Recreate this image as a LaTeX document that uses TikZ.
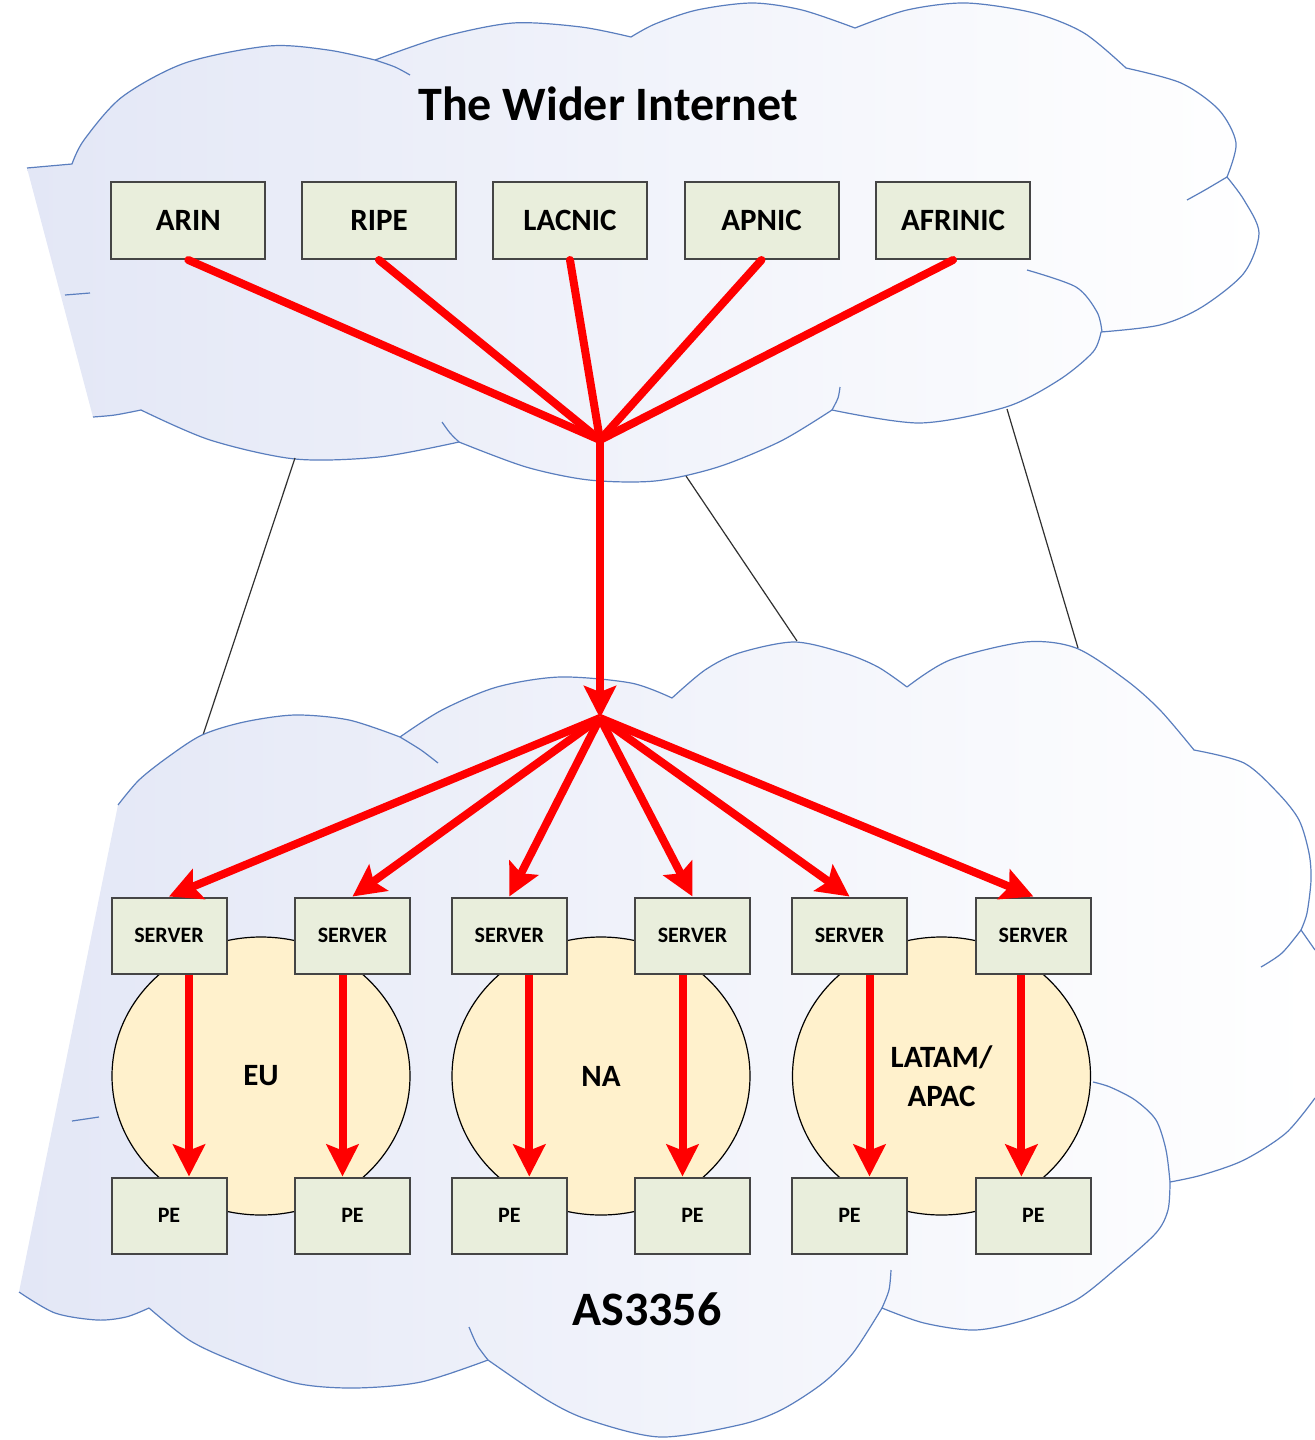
\documentclass[tikz,border=0pt]{standalone}
\usepackage{fontspec}
\setmainfont{Carlito}
\usetikzlibrary{arrows.meta,shapes.geometric}
\definecolor{cloudline}{HTML}{5A7EBE}
\definecolor{cloudtint}{HTML}{E3E7F6}
\definecolor{boxfill}{HTML}{E9EEDC}
\definecolor{boxline}{HTML}{454545}
\definecolor{regfill}{HTML}{FFF1CC}
\definecolor{redline}{HTML}{FF0000}
\definecolor{tieline}{HTML}{303030}
\def\topcloud{(27,168) -- (72,164)
 -- plot[smooth] coordinates {(72,164) (84,140) (122,97) (185,63) (269,46) (328,50) (375,60)}
 -- plot[smooth] coordinates {(375,60) (442,37) (513,23) (581,27) (631,37)}
 -- plot[smooth] coordinates {(631,37) (655,24) (697,10) (752,3) (802,10) (855,28)}
 -- plot[smooth] coordinates {(855,28) (907,10) (966,3) (1034,13) (1084,33) (1126,68)}
 -- plot[smooth] coordinates {(1126,68) (1181,83) (1219,110) (1236,143) (1227,177)}
 -- plot[smooth] coordinates {(1227,177) (1244,200) (1259,233) (1244,273) (1202,307) (1160,325) (1101,332)}
 -- plot[smooth] coordinates {(1101,332) (1093,352) (1059,380) (1006,407) (920,423) (832,410)}
 -- plot[smooth] coordinates {(832,410) (781,441) (718,467) (655,481) (589,480) (526,467) (459,442)}
 -- plot[smooth] coordinates {(459,442) (379,457) (295,459) (210,440) (141,410)}
 -- plot[smooth] coordinates {(141,410) (115,415) (93,417)}}
\def\botcloud{(118,805)
 -- plot[smooth] coordinates {(118,805) (139,780) (168,757) (202,735) (244,722) (295,715) (349,720) (400,737)}
 -- plot[smooth] coordinates {(400,737) (442,710) (497,687) (560,677) (631,683) (672,698)}
 -- plot[smooth] coordinates {(672,698) (705,670) (739,653) (794,642) (844,653) (878,667) (907,687)}
 -- plot[smooth] coordinates {(907,687) (950,660) (1025,642) (1076,648) (1126,680) (1160,710) (1194,750)}
 -- plot[smooth] coordinates {(1194,750) (1244,763) (1278,793) (1299,820) (1309,853) (1311,880) (1307,913) (1301,930)}
 -- (1315,950)}
\def\botcloudb{(1315,1098)
 -- plot[smooth] coordinates {(1315,1098) (1286,1133) (1244,1160) (1202,1175) (1170,1182)}
 -- plot[smooth] coordinates {(1170,1182) (1168,1210) (1156,1233) (1118,1267) (1076,1300) (1025,1320) (975,1330) (924,1323) (882,1308)}
 -- plot[smooth] coordinates {(882,1308) (853,1353) (823,1383) (781,1410) (739,1425) (660,1437) (589,1420) (547,1400) (488,1360)}
 -- plot[smooth] coordinates {(488,1360) (421,1382) (354,1388) (295,1383) (231,1360) (189,1340) (149,1308)}
 -- plot[smooth] coordinates {(149,1308) (126,1317) (97,1320) (55,1313) (19,1292)}}
\begin{document}
\begin{tikzpicture}[x=0.5pt,y=-0.5pt,
  cloudedge/.style={draw=cloudline, line width=0.6pt, line join=round},
  cloudfill/.style={left color=cloudtint, middle color=cloudtint!35!white, right color=white},
  rir/.style={draw=boxline, fill=boxfill, line width=1pt, minimum width=77pt,
    minimum height=38.5pt, inner sep=0pt, font=\fontsize{15.5}{18}\selectfont\bfseries},
  dev/.style={draw=boxline, fill=boxfill, line width=1pt, minimum width=57.5pt,
    minimum height=38pt, inner sep=0pt, font=\fontsize{11}{13}\selectfont\bfseries},
  region/.style={ellipse, draw=black, fill=regfill, line width=0.6pt,
    minimum width=149pt, minimum height=139pt, inner sep=0pt, align=center,
    font=\fontsize{15.5}{19.5}\selectfont\bfseries},
  title/.style={font=\fontsize{24}{28}\selectfont\bfseries, inner sep=0pt},
  fan/.style={draw=redline, line width=4pt, line cap=round},
  feed/.style={draw=redline, line width=4pt, -{Stealth[length=16pt,width=16pt,inset=3pt]}},
  tie/.style={draw=tieline, line width=0.6pt}]
\useasboundingbox (0,0) rectangle (1315,1440);

% top cloud
\shade[cloudfill] \topcloud -- cycle;
\draw[cloudedge] \topcloud;
\draw[cloudedge] plot[smooth] coordinates {(375,60) (395,67) (410,75)};
\draw[cloudedge] plot[smooth] coordinates {(1227,177) (1205,190) (1187,200)};
\draw[cloudedge] plot[smooth] coordinates {(1027,270) (1076,287) (1097,312) (1102,332)};
\draw[cloudedge] plot[smooth] coordinates {(832,410) (838,398) (840,387)};
\draw[cloudedge] plot[smooth] coordinates {(459,442) (450,433) (442,422)};
\draw[cloudedge] (65,295) -- (90,293);

% ties between clouds
\coordinate (t1) at (295,458); \coordinate (b1) at (203,735);
\coordinate (t2) at (686,476); \coordinate (b2) at (797,641);
\coordinate (t3) at (1007,409); \coordinate (b3) at (1078,648);
\draw[tie] (t1) -- (b1);
\draw[tie] (t2) -- (b2);
\draw[tie] (t3) -- (b3);

% bottom cloud
\shade[cloudfill] \botcloud -- \botcloudb -- cycle;
\draw[cloudedge] \botcloud;
\draw[cloudedge] \botcloudb;
\draw[cloudedge] plot[smooth] coordinates {(400,737) (421,750) (438,763)};
\draw[cloudedge] plot[smooth] coordinates {(1301,930) (1282,953) (1261,967)};
\draw[cloudedge] plot[smooth] coordinates {(1170,1182) (1166,1150) (1156,1120) (1135,1100) (1110,1087) (1093,1082)};
\draw[cloudedge] plot[smooth] coordinates {(882,1308) (889,1290) (891,1270)};
\draw[cloudedge] plot[smooth] coordinates {(488,1360) (477,1345) (469,1327)};
\draw[cloudedge] (72,1121) -- (99,1117);

% titles
\node[title] (wider) at (608,104) {The Wider Internet};
\node[title] (as) at (647,1309) {AS3356};

% RIR boxes
\node[rir] (arin) at (188.3,220.5) {ARIN};
\node[rir] (ripe) at (379,220.5) {RIPE};
\node[rir] (lacnic) at (570,220.5) {LACNIC};
\node[rir] (apnic) at (761.5,220.5) {APNIC};
\node[rir] (afrinic) at (953,220.5) {AFRINIC};

% regions
\node[region] (eu) at (261,1076) {EU};
\node[region] (na) at (601,1076) {NA};
\node[region] (latam) at (941.5,1076) {LATAM/\\APAC};

% servers and PEs
\node[dev] (s1) at (169,935.5) {SERVER};
\node[dev] (s2) at (352.5,935.5) {SERVER};
\node[dev] (s3) at (509.3,935.5) {SERVER};
\node[dev] (s4) at (692.5,935.5) {SERVER};
\node[dev] (s5) at (849.5,935.5) {SERVER};
\node[dev] (s6) at (1033.4,935.5) {SERVER};
\node[dev] (p1) at (169,1215.5) {PE};
\node[dev] (p2) at (352.5,1215.5) {PE};
\node[dev] (p3) at (509.3,1215.5) {PE};
\node[dev] (p4) at (692.5,1215.5) {PE};
\node[dev] (p5) at (849.5,1215.5) {PE};
\node[dev] (p6) at (1033.4,1215.5) {PE};

% red feeds
\coordinate (hub) at (600,440);
\coordinate (hubb) at (600,718);
\foreach \r in {arin,ripe,lacnic,apnic,afrinic}
  \draw[fan] (\r.south) -- (hub);
\draw[feed] (hub) -- (hubb);
\foreach \s in {s1,s2,s3,s4,s5,s6}
  \draw[feed] (hubb) -- (\s.north);
\draw[feed] ([xshift=10pt]s1.south) -- ([xshift=10pt]p1.north);
\draw[feed] ([xshift=-5pt]s2.south) -- ([xshift=-5pt]p2.north);
\draw[feed] ([xshift=10pt]s3.south) -- ([xshift=10pt]p3.north);
\draw[feed] ([xshift=-5pt]s4.south) -- ([xshift=-5pt]p4.north);
\draw[feed] ([xshift=10pt]s5.south) -- ([xshift=10pt]p5.north);
\draw[feed] ([xshift=-6pt]s6.south) -- ([xshift=-6pt]p6.north);
\end{tikzpicture}
\end{document}
